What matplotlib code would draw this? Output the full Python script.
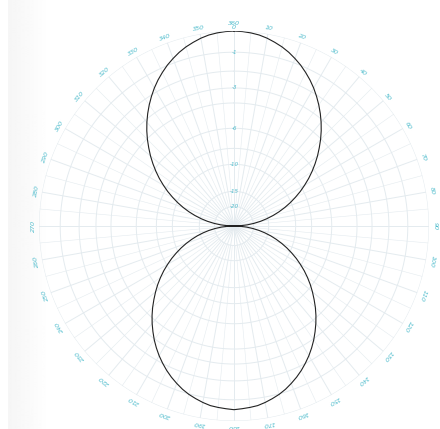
#### Workspace setup ####
import numpy as np
import matplotlib
matplotlib.use("Agg")
import matplotlib.pyplot as plt

#### Data ####
# relative field strength (linear, 1.0 = outer ring),
# one reading every 2.5 degrees, bearings clockwise from the top
step_deg = 2.5
front_right = [  # 0 .. 87.5
    1.000, 0.998, 0.994, 0.988, 0.978, 0.965, 0.951, 0.934, 0.914, 0.893,
    0.869, 0.844, 0.817, 0.788, 0.758, 0.727, 0.695, 0.662, 0.628, 0.593,
    0.559, 0.524, 0.489, 0.454, 0.418, 0.383, 0.347, 0.312, 0.277, 0.242,
    0.207, 0.172, 0.138, 0.103, 0.069, 0.034,
]
back_right = [  # 90 .. 177.5
    0.000, 0.032, 0.065, 0.097, 0.130, 0.162, 0.195, 0.227, 0.260, 0.293,
    0.326, 0.360, 0.393, 0.427, 0.460, 0.493, 0.525, 0.557, 0.590, 0.622,
    0.653, 0.683, 0.713, 0.741, 0.768, 0.793, 0.817, 0.839, 0.859, 0.878,
    0.894, 0.907, 0.919, 0.929, 0.934, 0.938,
]
back_left = [  # 180 .. 267.5
    0.942, 0.938, 0.934, 0.929, 0.919, 0.907, 0.894, 0.878, 0.859, 0.839,
    0.817, 0.793, 0.768, 0.741, 0.713, 0.683, 0.653, 0.622, 0.590, 0.557,
    0.525, 0.493, 0.460, 0.427, 0.393, 0.360, 0.326, 0.293, 0.260, 0.227,
    0.195, 0.162, 0.130, 0.097, 0.065, 0.032,
]
front_left = [  # 270 .. 357.5
    0.000, 0.034, 0.069, 0.103, 0.138, 0.172, 0.207, 0.242, 0.277, 0.312,
    0.347, 0.383, 0.418, 0.454, 0.489, 0.524, 0.559, 0.593, 0.628, 0.662,
    0.695, 0.727, 0.758, 0.788, 0.817, 0.844, 0.869, 0.893, 0.914, 0.934,
    0.951, 0.965, 0.978, 0.988, 0.994, 0.998,
]
field = front_right + back_right + back_left + front_left
angles_deg = [i * step_deg for i in range(len(field))]

# dB rings printed on the chart paper
ring_db = [0, -1, -2, -3, -4, -6, -8, -10, -15, -20]
ring_labels_db = [-1, -3, -6, -10, -15, -20]
# bearing labels every 10 degrees
bearing_ticks = list(range(0, 360, 10))

grid_col = "#e4ebef"
label_col = "#4fbccc"

#### Figure ####
fig = plt.figure(figsize=(4.40, 4.29), dpi=100)
fig.patch.set_facecolor("white")

# faint scanner shading on the left edge
bg = fig.add_axes([0, 0, 1, 1], zorder=-5)
shade = np.ones((2, 440))
shade[:, :45] = np.linspace(0.955, 0.995, 45)
shade[:, :8] = 1.0
bg.imshow(shade, cmap="gray", vmin=0, vmax=1, aspect="auto", extent=[0, 1, 0, 1])
bg.axis("off")

cx, cy, R = 234, 429 - 226, 195
ax = fig.add_axes([(cx - R) / 440, (cy - R) / 429, 2 * R / 440, 2 * R / 429],
                  projection="polar")
ax.patch.set_alpha(0)
ax.set_theta_zero_location("N")
ax.set_theta_direction(-1)
ax.set_ylim(0, 1.0)
ax.grid(False)
ax.set_xticks([])
ax.set_yticks([])
ax.spines["polar"].set_visible(False)

# paper grid: rings on a linear-voltage dB scale
t = np.linspace(0, 2 * np.pi, 400)
for db in ring_db:
    r = 10 ** (db / 20)
    ax.plot(t, np.full_like(t, r), color=grid_col, lw=0.7, zorder=1)

# spokes
for a in range(0, 360, 5):
    lw = 0.7 if a % 10 == 0 else 0.4
    r0 = 0.0 if a % 10 == 0 else 0.1
    ax.plot([np.radians(a)] * 2, [r0, 1.0], color=grid_col, lw=lw, zorder=1)

# bearing labels, tangential, just outside the outer ring
for a in bearing_ticks:
    txt = "360\n0" if a == 0 else str(a)
    ax.text(np.radians(a), 1.03, txt, color=label_col, fontsize=4.6,
            style="italic", rotation=-a, rotation_mode="anchor",
            ha="center", va="center", clip_on=False, linespacing=0.8)

# dB labels along the 0 degree line
for db in ring_labels_db:
    ax.text(0, 10 ** (db / 20), str(db), color=label_col, fontsize=4,
            style="italic", ha="center", va="center", zorder=2)

# antenna pattern trace
theta = np.radians(angles_deg + [angles_deg[0]])
rr = field + [field[0]]
ax.plot(theta, rr, color="#222222", lw=0.8, zorder=3)

fig.savefig("out.png", dpi=100)
